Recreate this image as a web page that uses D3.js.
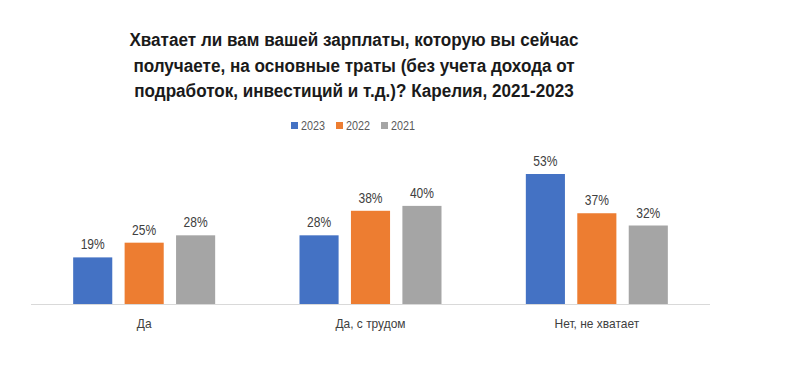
<!DOCTYPE html>
<html>
<head>
<meta charset="utf-8">
<script src="https://cdn.jsdelivr.net/npm/d3@7"></script>
<style>
  body { margin: 0; background: #fff; }
  svg { display: block; }
</style>
</head>
<body>
<div id="chart"></div>
<script>
// data
var categories = ["Да", "Да, с трудом", "Нет, не хватает"];
var years = ["2023", "2022", "2021"];
var values2023 = [19, 28, 53];
var values2022 = [25, 38, 37];
var values2021 = [28, 40, 32];
var titleLines = [
  "Хватает ли вам вашей зарплаты, которую вы сейчас",
  "получаете, на основные траты (без учета дохода от",
  "подработок, инвестиций и т.д.)? Карелия, 2021-2023"
];

var series = [values2023, values2022, values2021];
var colors = ["#4472C4", "#ED7D31", "#A5A5A5"];

var width = 787, height = 378;
var fontFamily = "'Liberation Sans Narrow', 'Arial Narrow', 'Liberation Sans', Arial, sans-serif";

var svg = d3.select("#chart").append("svg")
  .attr("width", width)
  .attr("height", height);

// title (condensed look, like Arial Narrow)
svg.append("g").selectAll("text")
  .data(titleLines)
  .enter()
  .append("text")
  .attr("transform", function (d, i) {
    return "translate(354," + (46 + i * 25.5) + ") scale(0.9,1)";
  })
  .attr("text-anchor", "middle")
  .style("font-family", fontFamily)
  .style("font-weight", "bold")
  .style("font-size", "19px")
  .style("fill", "#1a1a1a")
  .text(function (d) { return d; });

// legend
var legend = svg.append("g");
var legendItem = legend.selectAll("g")
  .data(years)
  .enter()
  .append("g")
  .attr("transform", function (d, i) { return "translate(" + (291 + i * 45) + ",126)"; });
legendItem.append("rect")
  .attr("x", 0).attr("y", -4)
  .attr("width", 7).attr("height", 7)
  .attr("fill", function (d, i) { return colors[i]; });
legendItem.append("text")
  .attr("transform", "translate(10,4) scale(0.9,1)")
  .style("font-family", fontFamily)
  .style("font-size", "12px")
  .style("fill", "#595959")
  .text(function (d) { return d; });

// scales
var baseline = 304;
var x0 = d3.scaleBand()
  .domain(categories)
  .range([31, 710])
  .paddingInner(0)
  .paddingOuter(0);

var x1 = d3.scaleBand()
  .domain(years)
  .range([0, 142])
  .paddingInner(0.24);

var y = d3.scaleLinear()
  .domain([0, 53])
  .range([baseline, 174]);

var groups = svg.append("g").selectAll("g")
  .data(categories)
  .enter()
  .append("g")
  .attr("transform", function (d) {
    return "translate(" + (x0(d) + x0.bandwidth() / 2 - 71) + ",0)";
  });

groups.selectAll("rect")
  .data(function (d, ci) {
    return years.map(function (yr, si) { return { year: yr, value: series[si][ci], color: colors[si] }; });
  })
  .enter()
  .append("rect")
  .attr("x", function (d) { return x1(d.year); })
  .attr("width", x1.bandwidth())
  .attr("y", function (d) { return y(d.value); })
  .attr("height", function (d) { return baseline - y(d.value); })
  .attr("fill", function (d) { return d.color; });

groups.selectAll("text.val")
  .data(function (d, ci) {
    return years.map(function (yr, si) { return { year: yr, value: series[si][ci] }; });
  })
  .enter()
  .append("text")
  .attr("class", "val")
  .attr("transform", function (d) {
    return "translate(" + (x1(d.year) + x1.bandwidth() / 2) + "," + (y(d.value) - 8) + ") scale(0.86,1)";
  })
  .attr("text-anchor", "middle")
  .style("font-family", fontFamily)
  .style("font-size", "14px")
  .style("fill", "#404040")
  .text(function (d) { return d.value + "%"; });

// x axis line + labels
svg.append("line")
  .attr("x1", 31).attr("x2", 710)
  .attr("y1", baseline + 0.5).attr("y2", baseline + 0.5)
  .attr("stroke", "#d9d9d9")
  .attr("stroke-width", 1);

svg.append("g").selectAll("text")
  .data(categories)
  .enter()
  .append("text")
  .attr("transform", function (d) {
    return "translate(" + (x0(d) + x0.bandwidth() / 2) + ",328) scale(0.92,1)";
  })
  .attr("text-anchor", "middle")
  .style("font-family", fontFamily)
  .style("font-size", "13px")
  .style("fill", "#404040")
  .text(function (d) { return d; });
</script>
</body>
</html>
